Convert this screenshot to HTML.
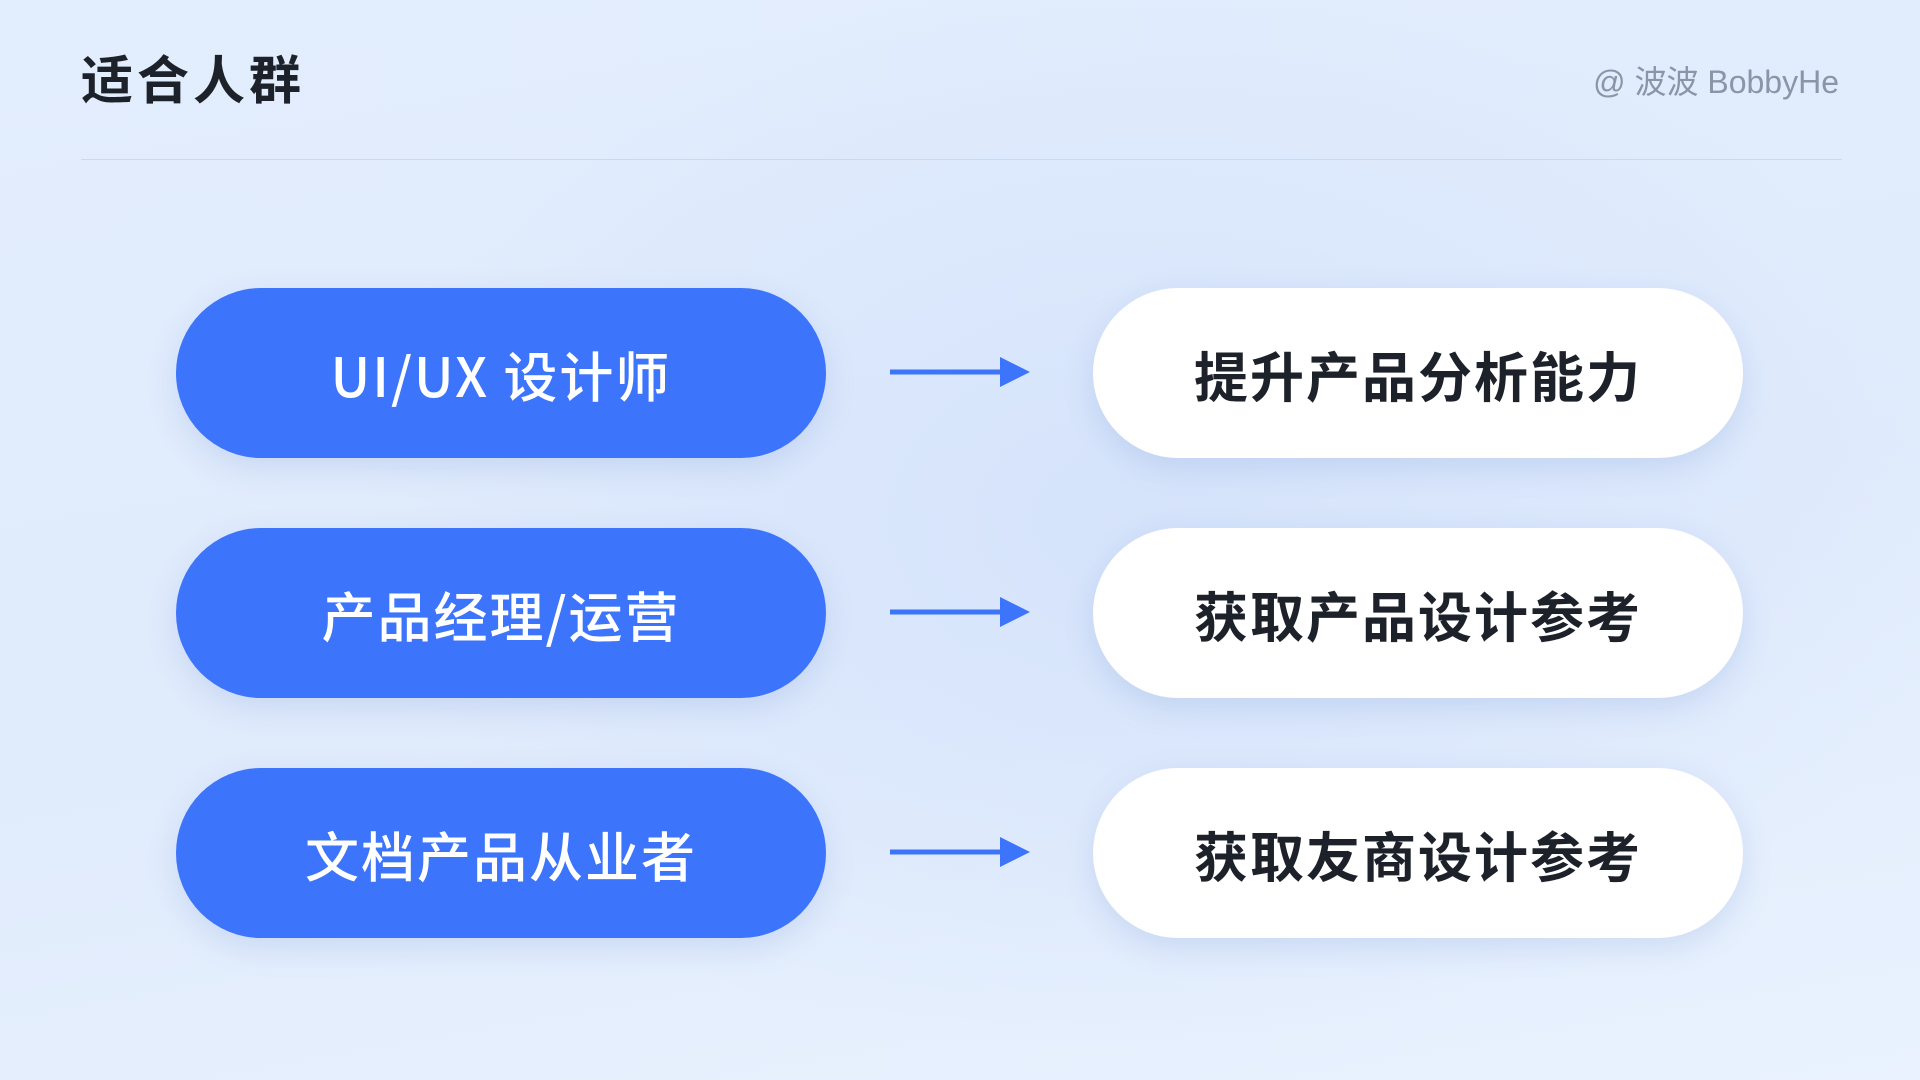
<!DOCTYPE html>
<html><head><meta charset="utf-8"><style>
html,body{margin:0;padding:0}
body{width:1920px;height:1080px;overflow:hidden;position:relative;
background:radial-gradient(ellipse 800px 550px at 1150px 520px,#d5e3fb 0%,rgba(213,227,251,0) 100%),linear-gradient(170deg,#e2edfd 0%,#e0ebfc 55%,#e9f2fe 100%);
font-family:"Liberation Sans","Noto Sans CJK SC",sans-serif}
.title{position:absolute;left:81px;top:50px;font-size:52px;font-weight:700;color:#1d2129;line-height:64px;letter-spacing:4px}
.wm{position:absolute;right:81px;top:62px;font-size:32px;color:#8b95a7;line-height:40px}
.line{position:absolute;left:81px;width:1761px;top:159px;height:1px;background:#cfd8e6}
.pill{position:absolute;width:650px;height:170px;border-radius:85px;display:flex;align-items:center;justify-content:center;font-size:54px;font-weight:700;box-shadow:0 10px 30px rgba(90,130,200,0.18);letter-spacing:2px;font-family:"Noto Sans CJK SC","Liberation Sans",sans-serif}
.l{left:176px;background:#3c74fb;color:#fff;font-weight:500}
.r{left:1093px;background:#fff;color:#1d2129}
.arr{position:absolute;left:890px;width:140px;height:30px}
</style></head><body>
<div class="title">适合人群</div>
<div class="wm">@ 波波 BobbyHe</div>
<div class="line"></div>

<div class="pill l" style="top:288px">UI/UX 设计师</div>
<div class="pill r" style="top:288px">提升产品分析能力</div>
<svg class="arr" style="top:357px" viewBox="0 0 140 30"><line x1="0" y1="15" x2="112" y2="15" stroke="#3c74fb" stroke-width="5"/><polygon points="110,0 140,15 110,30" fill="#3c74fb"/></svg>

<div class="pill l" style="top:528px">产品经理/运营</div>
<div class="pill r" style="top:528px">获取产品设计参考</div>
<svg class="arr" style="top:597px" viewBox="0 0 140 30"><line x1="0" y1="15" x2="112" y2="15" stroke="#3c74fb" stroke-width="5"/><polygon points="110,0 140,15 110,30" fill="#3c74fb"/></svg>

<div class="pill l" style="top:768px">文档产品从业者</div>
<div class="pill r" style="top:768px">获取友商设计参考</div>
<svg class="arr" style="top:837px" viewBox="0 0 140 30"><line x1="0" y1="15" x2="112" y2="15" stroke="#3c74fb" stroke-width="5"/><polygon points="110,0 140,15 110,30" fill="#3c74fb"/></svg>
</body></html>
